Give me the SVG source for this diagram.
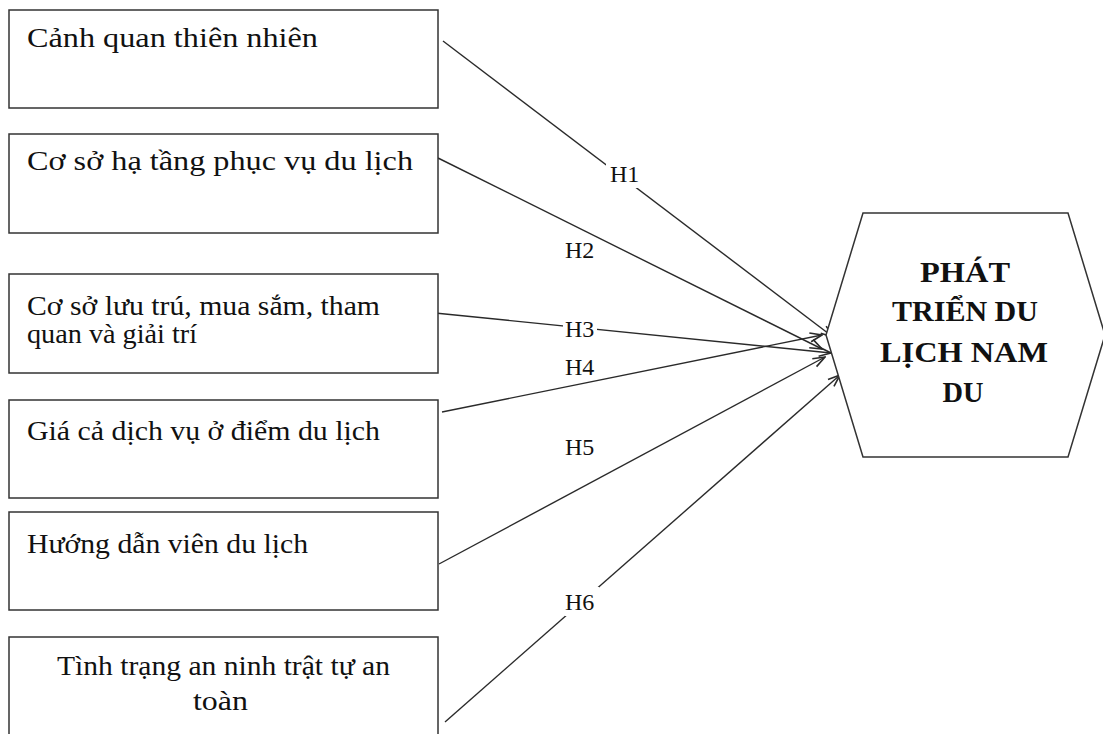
<svg xmlns="http://www.w3.org/2000/svg" width="1103" height="734" viewBox="0 0 1103 734">
<style>
.box{fill:#fff;stroke:#333;stroke-width:1.5}
.t{font-family:"Liberation Serif","Times New Roman",serif;font-size:27px;fill:#111}
.hb{font-family:"Liberation Serif","Times New Roman",serif;font-size:29px;font-weight:bold;fill:#111;text-anchor:middle}
.lbl{font-family:"Liberation Serif","Times New Roman",serif;font-size:24px;fill:#111}
.c{stroke:#2a2a2a;stroke-width:1.4;fill:none;marker-end:url(#ah)}
.bg{fill:#fff}
</style>
<defs>
<marker id="ah" viewBox="0 0 14 12" refX="13" refY="6" markerWidth="14" markerHeight="12" markerUnits="userSpaceOnUse" orient="auto">
<path d="M1,1.5 L13,6 L1,10.5" fill="none" stroke="#2a2a2a" stroke-width="1.6"/>
</marker>
</defs>
<rect width="1103" height="734" fill="#fff"/>
<g id="connectors">
<line class="c" x1="443" y1="41" x2="833" y2="337"/>
<line class="c" x1="438" y1="158" x2="822" y2="349"/>
<line class="c" x1="435" y1="313" x2="831" y2="353"/>
<line class="c" x1="442" y1="412" x2="822" y2="335"/>
<line class="c" x1="439" y1="564" x2="825" y2="357"/>
<line class="c" x1="445" y1="722" x2="840" y2="375"/>
<rect class="bg" x="606" y="162" width="34" height="26"/>
<rect class="bg" x="563" y="319" width="34" height="19"/>
<rect class="bg" x="565" y="587" width="34" height="29"/>
<text class="lbl" x="610" y="182">H1</text>
<text class="lbl" x="565" y="258">H2</text>
<text class="lbl" x="565" y="337">H3</text>
<text class="lbl" x="565" y="375">H4</text>
<text class="lbl" x="565" y="455">H5</text>
<text class="lbl" x="565" y="610">H6</text>
</g>
<g id="n1">
<rect class="box" x="9" y="10" width="429" height="98"/>
<text class="t" x="27" y="47" textLength="291" lengthAdjust="spacingAndGlyphs">Cảnh quan thiên nhiên</text>
</g>
<g id="n2">
<rect class="box" x="9" y="134" width="429" height="99"/>
<text class="t" x="27" y="170" textLength="386" lengthAdjust="spacingAndGlyphs">Cơ sở hạ tầng phục vụ du lịch</text>
</g>
<g id="n3">
<rect class="box" x="9" y="274" width="429" height="99"/>
<text class="t" x="27" y="315" textLength="353" lengthAdjust="spacingAndGlyphs">Cơ sở lưu trú, mua sắm, tham</text>
<text class="t" x="27" y="343" textLength="170" lengthAdjust="spacingAndGlyphs">quan và giải trí</text>
</g>
<g id="n4">
<rect class="box" x="9" y="400" width="429" height="98"/>
<text class="t" x="27" y="440" textLength="353" lengthAdjust="spacingAndGlyphs">Giá cả dịch vụ ở điểm du lịch</text>
</g>
<g id="n5">
<rect class="box" x="9" y="512" width="429" height="98"/>
<text class="t" x="27" y="553" textLength="281" lengthAdjust="spacingAndGlyphs">Hướng dẫn viên du lịch</text>
</g>
<g id="n6">
<rect class="box" x="9" y="637" width="429" height="110"/>
<text class="t" x="57" y="675" textLength="333" lengthAdjust="spacingAndGlyphs">Tình trạng an ninh trật tự an</text>
<text class="t" x="193" y="710" textLength="55" lengthAdjust="spacingAndGlyphs">toàn</text>
</g>
<g id="target">
<polygon points="863,213 1068,213 1105,335 1068,457 863,457 826,335" fill="#fff" stroke="#333" stroke-width="1.5"/>
<text class="hb" x="965" y="282" textLength="90" lengthAdjust="spacingAndGlyphs">PHÁT</text>
<text class="hb" x="965" y="321" textLength="146" lengthAdjust="spacingAndGlyphs">TRIỂN DU</text>
<text class="hb" x="964" y="362" textLength="168" lengthAdjust="spacingAndGlyphs">LỊCH NAM</text>
<text class="hb" x="963" y="402" textLength="41" lengthAdjust="spacingAndGlyphs">DU</text>
</g>
</svg>
